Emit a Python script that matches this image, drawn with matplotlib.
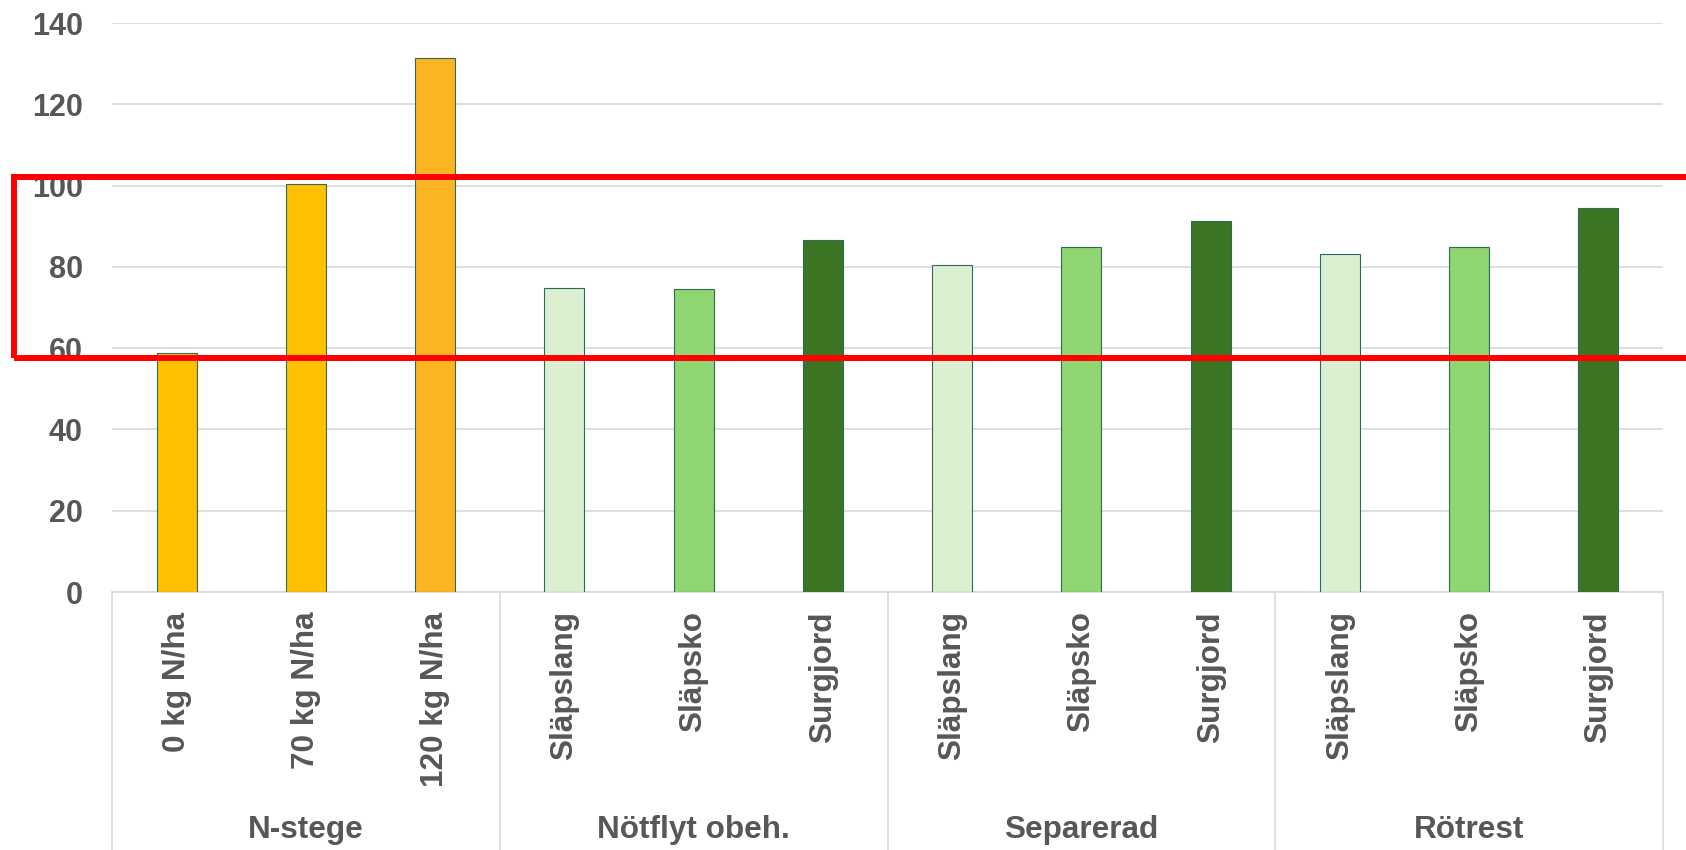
import matplotlib.pyplot as plt
import matplotlib.transforms as mtransforms
from matplotlib.lines import Line2D
from matplotlib.patches import Rectangle

# gruppnamn och behandlingar under varje grupp
grupper = ['N-stege', 'Nötflyt obeh.', 'Separerad', 'Rötrest']
n_stege = ['0 kg N/ha', '70 kg N/ha', '120 kg N/ha']
spridning = ['Släpslang', 'Släpsko', 'Surgjord']

# skörd per led
varden_n_stege = [58.7, 100.4, 131.3]
varden_notflyt = [74.7, 74.5, 86.5]
varden_separerad = [80.4, 85.0, 91.4]
varden_rotrest = [83.1, 84.8, 94.6]

# markerat intervall på y-axeln
markering = [57.6, 102.2]

etiketter = n_stege + spridning * 3
varden = varden_n_stege + varden_notflyt + varden_separerad + varden_rotrest

farg_n = ['#FFC000', '#FFC000', '#FBB520']
farg_grön = ['#DAF0D0', '#8FD572', '#3B7524']
farger = farg_n + farg_grön * 3

plt.rcParams['font.family'] = ['Liberation Sans', 'DejaVu Sans']
plt.rcParams['font.weight'] = 'bold'
grå = '#575757'
linje = '#D9D9D9'

fig = plt.figure(figsize=(16.86, 8.5), dpi=100)
ax = fig.add_axes([0.0664, 0.3035, 0.92, 0.6694])

x = list(range(len(etiketter)))
ax.bar(x, varden, width=0.31, color=farger, edgecolor='#2D6A5A', linewidth=0.8, zorder=3)

ax.set_xlim(-0.5, len(etiketter) - 0.5)
ax.set_ylim(0, 140)
ax.set_yticks(range(0, 141, 20))
ax.yaxis.grid(True, color=linje, linewidth=1.2, zorder=0)
ax.set_axisbelow(True)

ax.set_xticks(x)
ax.set_xticklabels(etiketter, rotation=90, fontsize=22.7, color=grå, fontweight='bold')
ax.tick_params(axis='x', length=0, pad=14)
ax.tick_params(axis='y', length=0, pad=21, labelsize=22, labelcolor=grå)

for side in ['top', 'right', 'left']:
    ax.spines[side].set_visible(False)
ax.spines['bottom'].set_color(linje)
ax.spines['bottom'].set_linewidth(1.2)

# gruppavgränsare och gruppnamn under axeln
trans = mtransforms.blended_transform_factory(ax.transData, fig.transFigure)
botten = ax.get_position().y0
for i in range(len(grupper) + 1):
    xv = i * 3 - 0.5
    fig.add_artist(Line2D([xv, xv], [botten, 0], transform=trans, color=linje, linewidth=1.2))
for i, namn in enumerate(grupper):
    fig.text(i * 3 + 1, 0.0235, namn, transform=trans, ha='center', va='center',
             fontsize=22.7, color=grå, fontweight='bold')

# röd ram runt intervallet
trans_ram = mtransforms.blended_transform_factory(fig.transFigure, ax.transData)
ram = Rectangle((0.0083, markering[0]), 1.2, markering[1] - markering[0],
                transform=trans_ram, fill=False, edgecolor='#FF0000', linewidth=4.3,
                zorder=5, clip_on=False)
fig.add_artist(ram)

fig.savefig('out.png', dpi=100)
